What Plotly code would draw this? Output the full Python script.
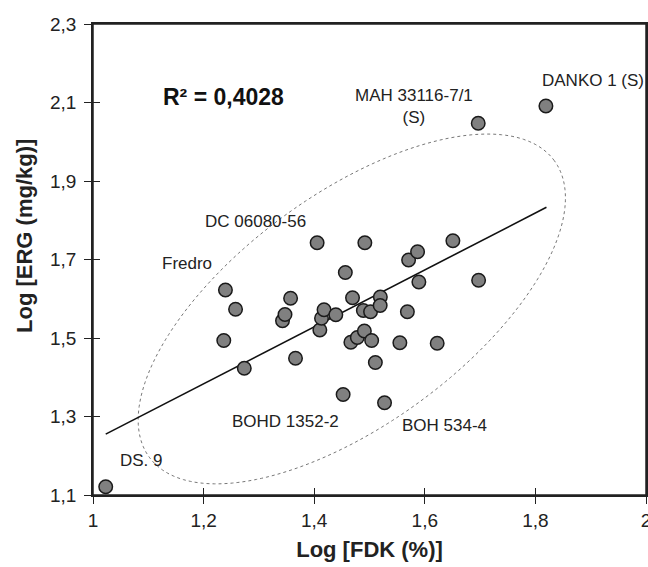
import numpy as np
import plotly.graph_objects as go

# Data (Log FDK %, Log ERG mg/kg)
log_fdk = [1.023, 1.2365, 1.2395, 1.2578, 1.2736, 1.3427, 1.3472, 1.3573, 1.3662, 1.4053,
           1.4102, 1.4132, 1.4178, 1.4391, 1.4523, 1.4563, 1.4663, 1.4693, 1.4780, 1.4916,
           1.4907, 1.4889, 1.5019, 1.5039, 1.5106, 1.5196, 1.5193, 1.5272, 1.5549, 1.5685,
           1.5707, 1.5869, 1.5893, 1.6224, 1.6508, 1.6973, 1.6966, 1.8190]
log_erg = [1.121, 1.4936, 1.6223, 1.5731, 1.4231, 1.5438, 1.5599, 1.6014, 1.4483, 1.7428,
           1.5204, 1.5502, 1.5721, 1.5591, 1.3561, 1.6669, 1.4890, 1.6027, 1.5013, 1.7428,
           1.5178, 1.5701, 1.5670, 1.4936, 1.4376, 1.6045, 1.5828, 1.3352, 1.4878, 1.5670,
           1.6987, 1.7199, 1.6427, 1.4865, 1.7479, 1.6470, 2.0470, 2.0910]

# Trend line end points
trend_x = [1.023, 1.820]
trend_y = [1.255, 1.833]

# Point labels
label_text = ["DC 06080-56", "Fredro", "BOHD 1352-2", "BOH 534-4", "DS. 9",
              "MAH 33116-7/1<br>(S)", "DANKO 1 (S)"]
label_x = [1.2944, 1.1695, 1.3487, 1.6363, 1.0881, 1.5803, 1.905]
label_y = [1.7963, 1.6903, 1.2868, 1.2783, 1.1874, 2.0893, 2.1548]

r2_text = "R² = 0,4028"
r2_pos = (1.2365, 2.1148)

x_title = "Log [FDK (%)]"
y_title = "Log [ERG (mg/kg)]"

x_tickvals = [1, 1.2, 1.4, 1.6, 1.8, 2]
y_tickvals = [1.1, 1.3, 1.5, 1.7, 1.9, 2.1, 2.3]
x_range = [1, 2]
y_range = [1.1, 2.3]

FONT = "Liberation Sans, Arial, sans-serif"

W, H = 648, 567
margin = dict(l=93, r=2, t=24, b=72)
px_per_x = (W - margin["l"] - margin["r"]) / (x_range[1] - x_range[0])
px_per_y = (H - margin["t"] - margin["b"]) / (y_range[1] - y_range[0])

# Dotted ellipse (decoration) in pixel-equivalent space
ell_cx, ell_cy = 1.468, 1.574
ell_a, ell_b, ell_ang = 251.0, 115.0, np.deg2rad(36.2)
t = np.linspace(0, 2 * np.pi, 241)
u, v = ell_a * np.cos(t), ell_b * np.sin(t)
ex = ell_cx + (u * np.cos(ell_ang) - v * np.sin(ell_ang)) / px_per_x
ey = ell_cy + (u * np.sin(ell_ang) + v * np.cos(ell_ang)) / px_per_y
path = "M " + " L ".join(f"{a:.5f},{b:.5f}" for a, b in zip(ex, ey)) + " Z"

fig = go.Figure()
fig.add_trace(go.Scatter(x=trend_x, y=trend_y, mode="lines",
                         line=dict(color="#111", width=1.6), hoverinfo="skip"))
fig.add_trace(go.Scatter(x=log_fdk, y=log_erg, mode="markers",
                         marker=dict(size=13.5, color="#808080",
                                     line=dict(color="#1a1a1a", width=1.5))))
# invisible trace for inner-tick overlay axes
fig.add_trace(go.Scatter(x=[None], y=[None], xaxis="x2", yaxis="y2",
                         showlegend=False, hoverinfo="skip"))

fig.add_shape(type="path", path=path, xref="x", yref="y",
              line=dict(color="#777", width=1, dash="dot"), layer="below")
# plot frame
fig.add_shape(type="rect", xref="paper", yref="paper", x0=0, x1=1, y0=0, y1=1,
              line=dict(color="#222", width=1.5), layer="above")

for txt, lx, ly in zip(label_text, label_x, label_y):
    fig.add_annotation(x=lx, y=ly, text=txt, showarrow=False,
                       font=dict(family=FONT, size=17, color="#222"), align="center")
fig.add_annotation(x=r2_pos[0], y=r2_pos[1], text=f"<b>{r2_text}</b>", showarrow=False,
                   font=dict(family=FONT, size=23, color="#111"))

# y-axis title (placed as rotated text, slightly above the plot centre as in the reference)
fig.add_annotation(xref="paper", yref="paper", x=0, y=0.55, xshift=-68,
                   text=f"<b>{y_title}</b>", textangle=-90, showarrow=False,
                   xanchor="center", yanchor="middle",
                   font=dict(family=FONT, size=22, color="#222"))

axis_common = dict(showgrid=False, zeroline=False, showline=True, linecolor="#222",
                   linewidth=1.5, mirror=True, ticks="outside", ticklen=7,
                   tickwidth=1.3, tickcolor="#222", ticklabeloverflow="allow",
                   automargin=False,
                   tickfont=dict(family=FONT, size=19, color="#222"))

fig.update_layout(
    width=W, height=H, margin=margin,
    plot_bgcolor="white", paper_bgcolor="white",
    showlegend=False, separators=", ",
    xaxis=dict(range=x_range, tickvals=x_tickvals,
               title=dict(text=f"<b>{x_title}</b>", standoff=12,
                          font=dict(family=FONT, size=22, color="#222")),
               **axis_common),
    yaxis=dict(range=y_range, tickvals=y_tickvals, ticklabelstandoff=4, **axis_common),
    xaxis2=dict(range=x_range, overlaying="x", tickvals=x_tickvals, ticks="inside",
                ticklen=7, tickwidth=1.3, tickcolor="#222", showticklabels=False,
                automargin=False,
                showgrid=False, zeroline=False, showline=False, anchor="y2", side="bottom"),
    yaxis2=dict(range=y_range, overlaying="y", tickvals=y_tickvals, ticks="inside",
                ticklen=7, tickwidth=1.3, tickcolor="#222", showticklabels=False,
                automargin=False,
                showgrid=False, zeroline=False, showline=False, anchor="x2", side="left"),
)

fig.write_html(
    "out.html",
    config={"displayModeBar": False},
    post_script=("document.documentElement.style.overflow='hidden';"
                 "document.body.style.overflow='hidden';"
                 "document.body.style.margin='0';"),
)
